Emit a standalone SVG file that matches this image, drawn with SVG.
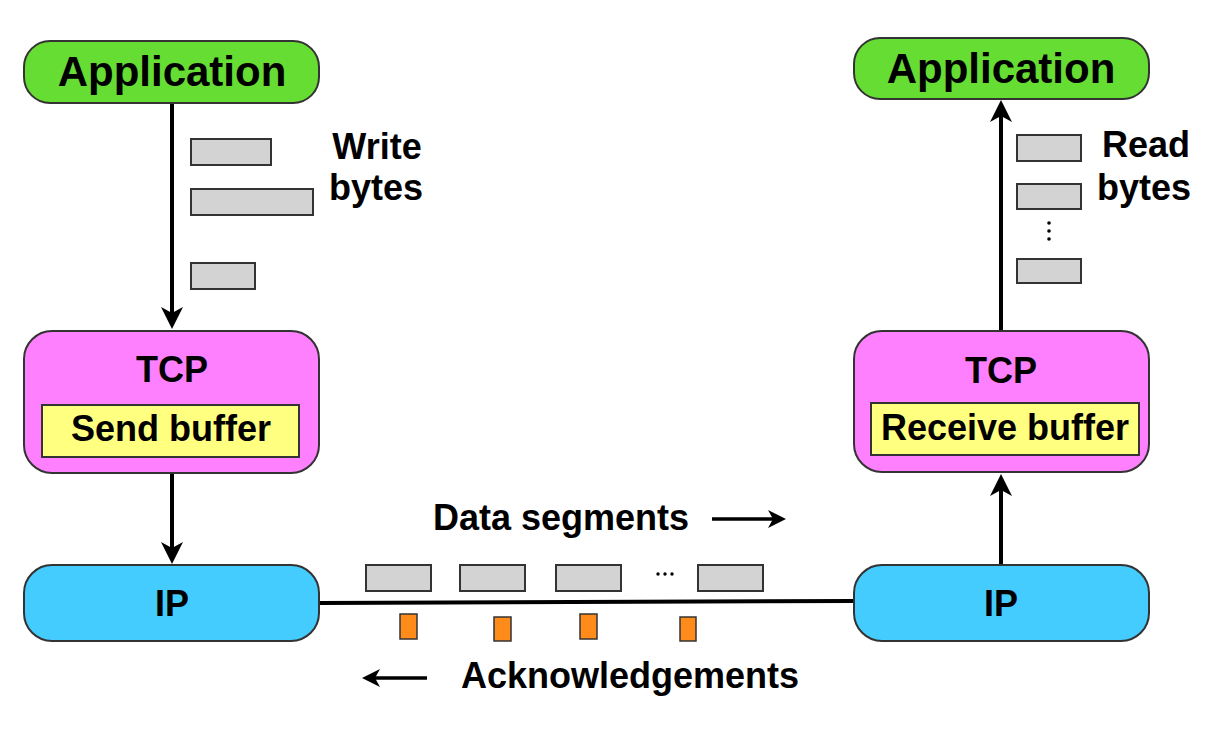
<svg xmlns="http://www.w3.org/2000/svg" width="1220" height="732" viewBox="0 0 1220 732">
<defs>
<style>
text{font-family:"Liberation Sans",Arial,sans-serif;font-weight:bold;fill:#000;}
.app{fill:#66DD33;stroke:#333;stroke-width:2;}
.tcp{fill:#FF80FF;stroke:#333;stroke-width:2;}
.buf{fill:#FFFF80;stroke:#333;stroke-width:2;}
.ip{fill:#44CCFF;stroke:#333;stroke-width:2;}
.seg{fill:#D3D3D3;stroke:#333;stroke-width:2;}
.ack{fill:#FF8C1A;stroke:#333;stroke-width:1.5;}
.conn{stroke:#000;stroke-width:4;fill:none;}
.thin{stroke:#000;stroke-width:3.5;fill:none;}
.head{fill:#000;}
</style>
<path id="bighead" d="M0,0 L-11,-22 L0,-16 L11,-22 Z"/>
<path id="smallhead" d="M0,0 L-9,-18 L0,-13 L9,-18 Z"/>
</defs>
<rect width="1220" height="732" fill="#fff"/>

<g id="connectors">
<line class="conn" x1="172" y1="103" x2="172" y2="315"/>
<use href="#bighead" class="head" transform="translate(172,329)"/>
<line class="conn" x1="172" y1="473" x2="172" y2="550"/>
<use href="#bighead" class="head" transform="translate(172,564)"/>
<line class="conn" x1="1001" y1="330" x2="1001" y2="115"/>
<use href="#bighead" class="head" transform="translate(1001,100) rotate(180)"/>
<line class="conn" x1="1001" y1="565" x2="1001" y2="488"/>
<use href="#bighead" class="head" transform="translate(1001,474) rotate(180)"/>
<line class="conn" x1="319" y1="603" x2="854" y2="601"/>
<line class="thin" x1="712" y1="519" x2="775" y2="519"/>
<use href="#smallhead" class="head" transform="translate(786,519) rotate(-90)"/>
<line class="thin" x1="427" y1="678" x2="373" y2="678"/>
<use href="#smallhead" class="head" transform="translate(362,678) rotate(90)"/>
</g>

<g id="app-left">
<rect class="app" x="24" y="41" width="295" height="62" rx="26"/>
<text x="172" y="86" font-size="42" text-anchor="middle">Application</text>
</g>
<g id="app-right">
<rect class="app" x="854" y="38" width="295" height="61" rx="26"/>
<text x="1001" y="83" font-size="42" text-anchor="middle">Application</text>
</g>

<g id="tcp-left">
<rect class="tcp" x="24" y="331" width="295" height="142" rx="28"/>
<text x="172" y="382" font-size="36" text-anchor="middle">TCP</text>
<rect class="buf" x="42" y="405" width="257" height="52"/>
<text x="171" y="441" font-size="36" text-anchor="middle">Send buffer</text>
</g>
<g id="tcp-right">
<rect class="tcp" x="854" y="331" width="295" height="141" rx="28"/>
<text x="1001" y="383" font-size="36" text-anchor="middle">TCP</text>
<rect class="buf" x="871" y="403" width="268" height="52"/>
<text x="1005" y="440" font-size="36" text-anchor="middle">Receive buffer</text>
</g>

<g id="ip-left">
<rect class="ip" x="24" y="565" width="295" height="76" rx="28"/>
<text x="172" y="616" font-size="36" text-anchor="middle">IP</text>
</g>
<g id="ip-right">
<rect class="ip" x="854" y="565" width="295" height="76" rx="28"/>
<text x="1001" y="616" font-size="36" text-anchor="middle">IP</text>
</g>

<g id="write-bytes">
<rect class="seg" x="191" y="139" width="80" height="26"/>
<rect class="seg" x="191" y="189" width="122" height="26"/>
<rect class="seg" x="191" y="263" width="64" height="26"/>
<text x="377" y="159" font-size="36" text-anchor="middle">Write</text>
<text x="376" y="200" font-size="36" text-anchor="middle">bytes</text>
</g>

<g id="read-bytes">
<rect class="seg" x="1017" y="135" width="64" height="26"/>
<rect class="seg" x="1017" y="184" width="64" height="25"/>
<circle cx="1049" cy="223" r="1.8" fill="#000"/>
<circle cx="1049" cy="231" r="1.8" fill="#000"/>
<circle cx="1049" cy="239" r="1.8" fill="#000"/>
<rect class="seg" x="1017" y="259" width="64" height="24"/>
<text x="1146" y="157" font-size="36" text-anchor="middle">Read</text>
<text x="1144" y="200" font-size="36" text-anchor="middle">bytes</text>
</g>

<g id="data-segments">
<text x="561" y="530" font-size="36" text-anchor="middle">Data segments</text>
<rect class="seg" x="366" y="565" width="65" height="26"/>
<rect class="seg" x="460" y="565" width="65" height="26"/>
<rect class="seg" x="556" y="565" width="65" height="26"/>
<circle cx="658" cy="574" r="1.7" fill="#000"/>
<circle cx="665" cy="574" r="1.7" fill="#000"/>
<circle cx="672" cy="574" r="1.7" fill="#000"/>
<rect class="seg" x="698" y="565" width="65" height="26"/>
</g>

<g id="acknowledgements">
<rect class="ack" x="400" y="614" width="17" height="25"/>
<rect class="ack" x="494" y="617" width="17" height="24"/>
<rect class="ack" x="580" y="614" width="17" height="25"/>
<rect class="ack" x="680" y="617" width="16" height="24"/>
<text x="630" y="688" font-size="36" text-anchor="middle">Acknowledgements</text>
</g>
</svg>
